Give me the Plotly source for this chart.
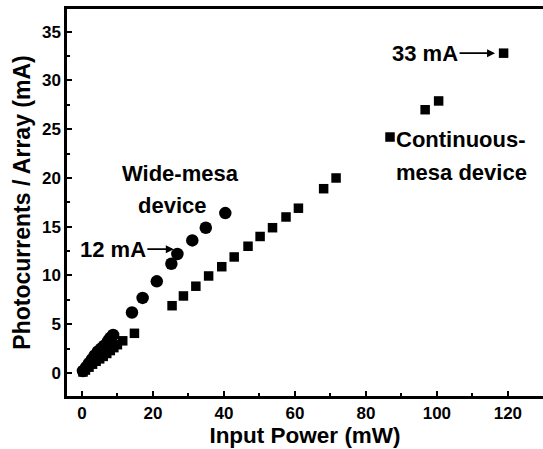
import plotly.graph_objects as go

# Wide-mesa device (circles)
wide_x = [0.3, 1.2, 2.0, 2.8, 3.6, 4.5, 5.4, 6.3, 7.4, 8.0, 8.8, 14.1, 17.1, 21.1, 25.2, 26.9, 31.1, 34.9, 40.4]
wide_y = [0.2, 0.6, 1.0, 1.4, 1.8, 2.2, 2.5, 2.8, 3.3, 3.6, 3.9, 6.2, 7.7, 9.4, 11.2, 12.2, 13.6, 14.9, 16.4]

# Continuous-mesa device (squares)
cont_x = [0.3, 1.0, 2.0, 3.0, 4.0, 5.0, 6.0, 7.0, 8.0, 9.0, 10.0, 11.5, 14.8, 25.4, 28.6, 32.1,
          35.7, 39.4, 42.9, 46.8, 50.2, 53.7, 57.5, 61.0, 68.1, 71.6, 86.8, 96.7, 100.5, 118.8]
cont_y = [0.1, 0.3, 0.6, 0.9, 1.2, 1.45, 1.7, 2.0, 2.3, 2.6, 2.9, 3.3, 4.07, 6.9, 7.9, 8.9,
          9.95, 10.9, 11.9, 13.0, 14.0, 14.9, 16.0, 16.9, 18.9, 20.0, 24.2, 27.0, 27.9, 32.8]

x_ticks = [0, 20, 40, 60, 80, 100, 120]
y_ticks = [0, 5, 10, 15, 20, 25, 30, 35]

FONT = "Liberation Sans, Arial, sans-serif"

fig = go.Figure()
fig.add_trace(go.Scatter(x=wide_x, y=wide_y, mode="markers",
                         marker=dict(symbol="circle", size=12.5, color="black"),
                         showlegend=False))
fig.add_trace(go.Scatter(x=cont_x, y=cont_y, mode="markers",
                         marker=dict(symbol="square", size=9.5, color="black"),
                         showlegend=False))

ann_font = dict(family=FONT, size=22, color="black", weight="bold")
fig.add_annotation(x=116.4, y=32.8, ax=-70, ay=0, text="33 mA", showarrow=True,
                   arrowhead=2, arrowsize=1, arrowwidth=1.6, arrowcolor="black",
                   font=ann_font, standoff=0)
fig.add_annotation(x=25.9, y=12.7, ax=-61, ay=0, text="12 mA", showarrow=True,
                   arrowhead=2, arrowsize=1, arrowwidth=1.6, arrowcolor="black",
                   font=ann_font, standoff=0)
fig.add_annotation(x=106.8, y=23.9, text="Continuous-", showarrow=False, font=ann_font)
fig.add_annotation(x=106.8, y=20.6, text="mesa device", showarrow=False, font=ann_font)
fig.add_annotation(x=27.7, y=20.5, text="Wide-mesa", showarrow=False, font=ann_font)
fig.add_annotation(x=25.4, y=17.2, text="device", showarrow=False, font=ann_font)

tick_font = dict(family=FONT, size=17, color="black", weight="bold")
xtitle_font = dict(family=FONT, size=22.5, color="black", weight="bold")
ytitle_font = dict(family=FONT, size=23, color="black", weight="bold")

fig.update_xaxes(range=[-4.2, 129.9], tickvals=x_ticks, ticktext=[str(v) for v in x_ticks],
                 ticks="inside", ticklen=5, tickwidth=2, tickcolor="black",
                 minor=dict(dtick=10, tick0=0, ticks="inside", ticklen=3, tickwidth=2, tickcolor="black"),
                 showline=True, linewidth=2.5, linecolor="black", mirror=True,
                 showgrid=False, zeroline=False, tickfont=tick_font,
                 title=dict(text="Input Power (mW)", font=xtitle_font, standoff=2))
fig.update_yaxes(range=[-2.36, 37.33], tickvals=y_ticks, ticktext=[str(v) for v in y_ticks],
                 ticks="inside", ticklen=5, tickwidth=2, tickcolor="black",
                 minor=dict(dtick=2.5, tick0=0, ticks="inside", ticklen=3, tickwidth=2, tickcolor="black"),
                 showline=True, linewidth=2.5, linecolor="black", mirror=False,
                 showgrid=False, zeroline=False, tickfont=tick_font,
                 title=dict(text="Photocurrents / Array (mA)", font=ytitle_font, standoff=5))

fig.update_layout(width=543, height=449, margin=dict(l=67, r=0, t=9, b=53),
                  plot_bgcolor="white", paper_bgcolor="white")

fig.write_html("out.html")
